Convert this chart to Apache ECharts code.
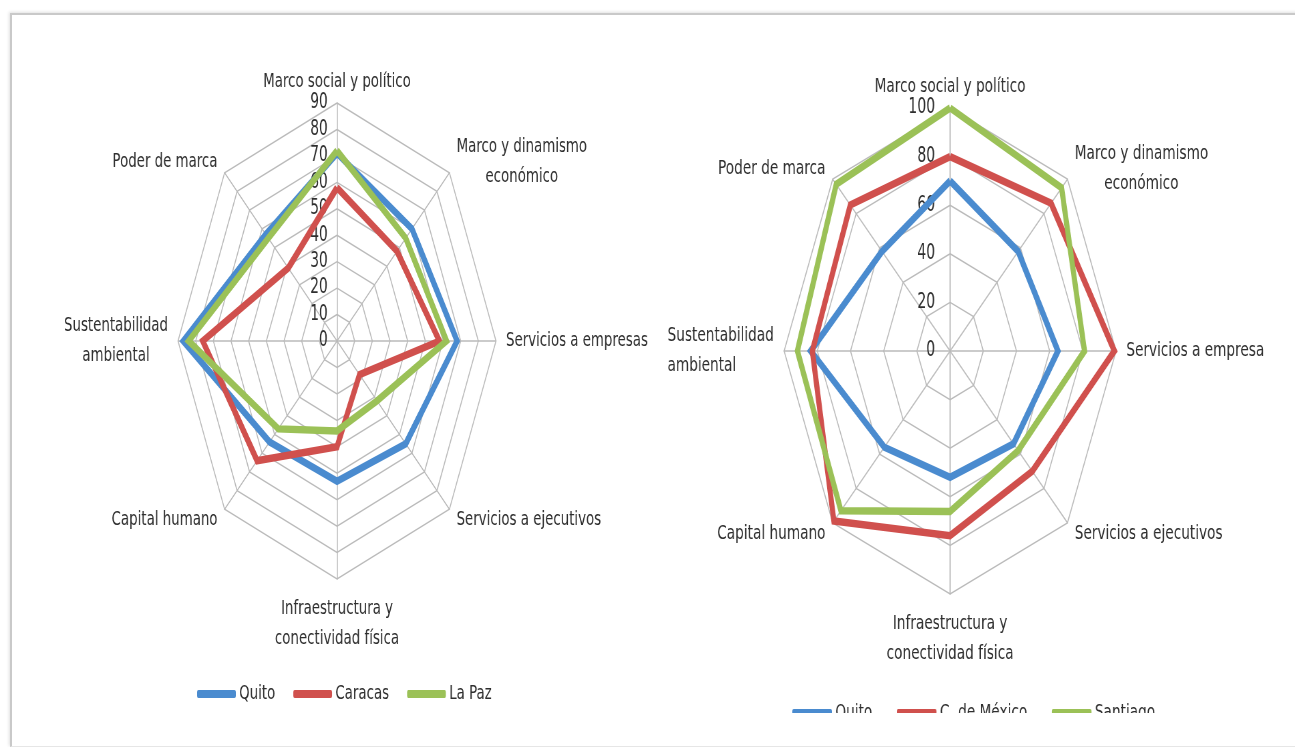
<!DOCTYPE html>
<html>
<head>
<meta charset="utf-8">
<script src="https://cdn.jsdelivr.net/npm/echarts@6/dist/echarts.min.js"></script>
<style>
html,body{margin:0;padding:0;background:#fff;width:1295px;height:747px;overflow:hidden;position:relative;}
#frame{position:absolute;left:10px;top:13px;width:1300px;height:731px;border-left:2px solid #c9c9c9;border-top:2px solid #c9c9c9;border-bottom:1px solid #e6e6e6;box-shadow:-1px -1px 3px rgba(0,0,0,0.12);}
#leftWrap{position:absolute;left:0;top:0;width:650px;height:747px;overflow:hidden;}
#left{width:973px;height:747px;transform:scaleX(0.668);transform-origin:0 0;}
#rightWrap{position:absolute;left:640px;top:0;width:655px;height:713px;overflow:hidden;}
#right{width:959px;height:713px;transform:scaleX(0.683);transform-origin:0 0;}
</style>
</head>
<body>
<div id="frame"></div>
<div id="leftWrap"><div id="left"></div></div>
<div id="rightWrap"><div id="right"></div></div>
<script>
// Indicators in ECharts order (counter-clockwise starting at the top)
const leftCategories = ['Marco social y político', 'Poder de marca', 'Sustentabilidad\nambiental', 'Capital humano',
  'Infraestructura y\nconectividad física', 'Servicios a ejecutivos', 'Servicios a empresas', 'Marco y dinamismo\neconómico'];
const leftSeriesNames = ['Quito', 'Caracas', 'La Paz'];
const leftQuito   = [71, 57, 87, 54, 53, 55, 68, 60];
const leftCaracas = [58, 39, 76, 64, 40, 18, 58, 48];
const leftLaPaz   = [72, 55, 84, 47, 34, 32, 62, 55];
const leftMax = 90;
const leftSplits = 9;

const rightCategories = ['Marco social y político', 'Poder de marca', 'Sustentabilidad\nambiental', 'Capital humano',
  'Infraestructura y\nconectividad física', 'Servicios a ejecutivos', 'Servicios a empresa', 'Marco y dinamismo\neconómico'];
const rightSeriesNames = ['Quito', 'C. de México', 'Santiago'];
const rightQuito    = [70, 58, 84, 56, 52, 54, 65, 58];
const rightMexico   = [80, 85, 83, 99, 76, 70, 99, 86];
const rightSantiago = [100, 97, 92, 93, 66, 58, 81, 95];
const rightMax = 100;
const rightSplits = 5;

const colors = ['#4A8BCF', '#D0504D', '#9BC157'];
const FONT = 'DejaVu Sans';
const TEXT = '#2e2e2e';

function buildOption(cfg) {
  const rich = {
    c: {align: 'center', fontSize: 20, fontFamily: FONT, color: TEXT, lineHeight: 30},
    l: {align: 'left', fontSize: 20, fontFamily: FONT, color: TEXT, lineHeight: 30}
  };
  const indicator = cfg.categories.map(function (n, i) {
    const ind = {name: n, min: 0, max: cfg.max};
    if (i === 0) {
      ind.axisLabel = {show: true, fontSize: 20.5, fontFamily: FONT, color: TEXT, margin: cfg.labelMargin, padding: [5, 0, 0, 0]};
    }
    return ind;
  });
  return {
    animation: false,
    legend: {
      data: cfg.names,
      left: cfg.legendLeft,
      top: cfg.legendTop,
      icon: 'roundRect',
      itemWidth: 58,
      itemHeight: 8,
      itemGap: cfg.legendGap,
      textStyle: {fontSize: 20, fontFamily: FONT, color: TEXT},
      selectedMode: false
    },
    radar: {
      center: cfg.center,
      radius: cfg.radius,
      startAngle: 90,
      splitNumber: cfg.splits,
      shape: 'polygon',
      indicator: indicator,
      axisNameGap: 15,
      axisName: {
        color: TEXT,
        fontSize: 20,
        fontFamily: FONT,
        lineHeight: 12,
        rich: rich,
        formatter: function (name) {
          if (name.indexOf('\n') < 0) return name;
          const tag = cfg.leftAligned.indexOf(name) >= 0 ? 'l' : 'c';
          return name.split('\n').map(function (s) { return '{' + tag + '|' + s + '}'; }).join('\n');
        }
      },
      axisLabel: {show: false},
      axisLine: {lineStyle: {color: '#bababa', width: 1.5}},
      splitLine: {lineStyle: {color: '#bababa', width: 1.5}},
      splitArea: {show: false}
    },
    series: [{
      type: 'radar',
      symbol: 'none',
      silent: true,
      data: cfg.values.map(function (v, i) {
        return {
          name: cfg.names[i],
          value: v,
          lineStyle: {color: colors[i], width: 7.5, join: 'miter'},
          itemStyle: {color: colors[i]}
        };
      })
    }]
  };
}

const leftChart = echarts.init(document.getElementById('left'));
leftChart.setOption(buildOption({
  categories: leftCategories,
  names: leftSeriesNames,
  values: [leftQuito, leftCaracas, leftLaPaz],
  max: leftMax,
  splits: leftSplits,
  center: [504.5, 341],
  radius: 238,
  labelMargin: 14,
  legendLeft: 290,
  legendTop: 679,
  legendGap: 27,
  leftAligned: []
}));

const rightChart = echarts.init(document.getElementById('right'));
rightChart.setOption(buildOption({
  categories: rightCategories,
  names: rightSeriesNames,
  values: [rightQuito, rightMexico, rightSantiago],
  max: rightMax,
  splits: rightSplits,
  center: [454, 351],
  radius: 243,
  labelMargin: 22,
  legendLeft: 218,
  legendTop: 698,
  legendGap: 36,
  leftAligned: ['Sustentabilidad\nambiental']
}));
</script>
</body>
</html>
